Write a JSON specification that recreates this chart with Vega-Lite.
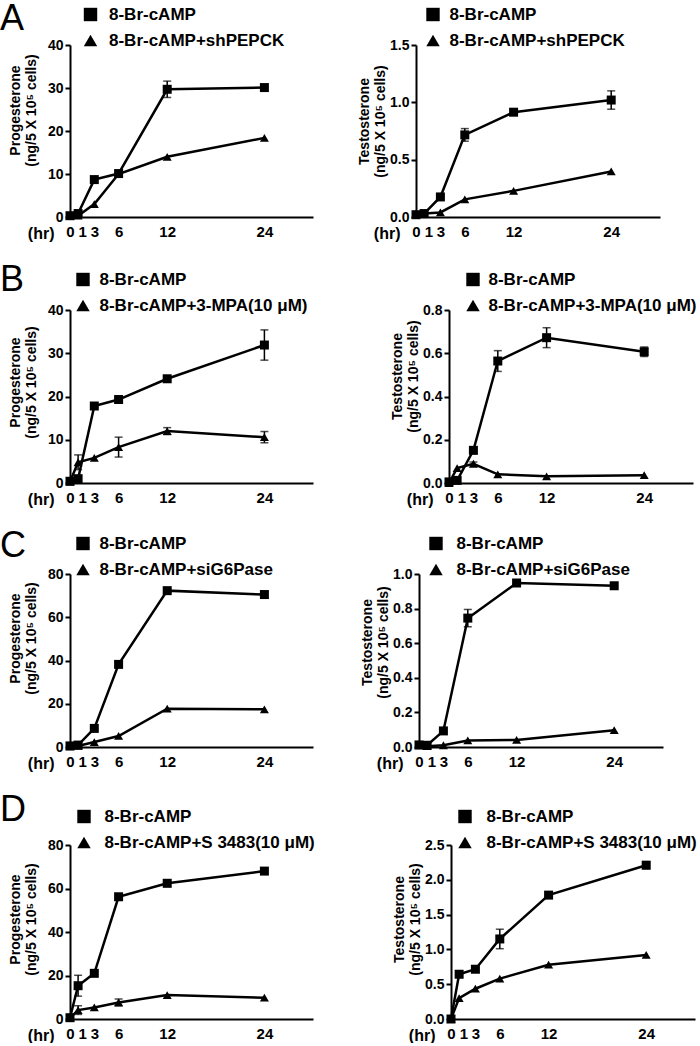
{
  "$schema": "https://vega.github.io/schema/vega-lite/v6.json",
  "padding": {"left": 0, "top": 0, "right": 0, "bottom": 0},
  "background": "white",
  "datasets": {
    "d": [
      {"p": "A1", "s": "8-Br-cAMP", "hr": 0, "v": 0.3, "e": 0},
      {"p": "A1", "s": "8-Br-cAMP", "hr": 1, "v": 0.8, "e": 0},
      {"p": "A1", "s": "8-Br-cAMP", "hr": 3, "v": 8.7, "e": 0},
      {"p": "A1", "s": "8-Br-cAMP", "hr": 6, "v": 10.1, "e": 0},
      {"p": "A1", "s": "8-Br-cAMP", "hr": 12, "v": 29.7, "e": 1.9},
      {"p": "A1", "s": "8-Br-cAMP", "hr": 24, "v": 30.1, "e": 0},
      {"p": "A1", "s": "8-Br-cAMP+shPEPCK", "hr": 0, "v": 0.2, "e": 0},
      {"p": "A1", "s": "8-Br-cAMP+shPEPCK", "hr": 1, "v": 0.3, "e": 0},
      {"p": "A1", "s": "8-Br-cAMP+shPEPCK", "hr": 3, "v": 3.0, "e": 0},
      {"p": "A1", "s": "8-Br-cAMP+shPEPCK", "hr": 6, "v": 10.0, "e": 0},
      {"p": "A1", "s": "8-Br-cAMP+shPEPCK", "hr": 12, "v": 14.0, "e": 0},
      {"p": "A1", "s": "8-Br-cAMP+shPEPCK", "hr": 24, "v": 18.4, "e": 0},
      {"p": "A2", "s": "8-Br-cAMP", "hr": 0, "v": 0.02, "e": 0},
      {"p": "A2", "s": "8-Br-cAMP", "hr": 1, "v": 0.03, "e": 0},
      {"p": "A2", "s": "8-Br-cAMP", "hr": 3, "v": 0.175, "e": 0},
      {"p": "A2", "s": "8-Br-cAMP", "hr": 6, "v": 0.716, "e": 0.055},
      {"p": "A2", "s": "8-Br-cAMP", "hr": 12, "v": 0.914, "e": 0},
      {"p": "A2", "s": "8-Br-cAMP", "hr": 24, "v": 1.02, "e": 0.08},
      {"p": "A2", "s": "8-Br-cAMP+shPEPCK", "hr": 0, "v": 0.03, "e": 0},
      {"p": "A2", "s": "8-Br-cAMP+shPEPCK", "hr": 1, "v": 0.03, "e": 0},
      {"p": "A2", "s": "8-Br-cAMP+shPEPCK", "hr": 3, "v": 0.04, "e": 0},
      {"p": "A2", "s": "8-Br-cAMP+shPEPCK", "hr": 6, "v": 0.154, "e": 0},
      {"p": "A2", "s": "8-Br-cAMP+shPEPCK", "hr": 12, "v": 0.228, "e": 0},
      {"p": "A2", "s": "8-Br-cAMP+shPEPCK", "hr": 24, "v": 0.397, "e": 0},
      {"p": "B1", "s": "8-Br-cAMP", "hr": 0, "v": 0.4, "e": 0},
      {"p": "B1", "s": "8-Br-cAMP", "hr": 1, "v": 1.0, "e": 0},
      {"p": "B1", "s": "8-Br-cAMP", "hr": 3, "v": 17.8, "e": 0},
      {"p": "B1", "s": "8-Br-cAMP", "hr": 6, "v": 19.3, "e": 0},
      {"p": "B1", "s": "8-Br-cAMP", "hr": 12, "v": 24.1, "e": 0},
      {"p": "B1", "s": "8-Br-cAMP", "hr": 24, "v": 31.9, "e": 3.5},
      {"p": "B1", "s": "8-Br-cAMP+3-MPA(10 μM)", "hr": 0, "v": 0.3, "e": 0},
      {"p": "B1", "s": "8-Br-cAMP+3-MPA(10 μM)", "hr": 1, "v": 4.8, "e": 1.7},
      {"p": "B1", "s": "8-Br-cAMP+3-MPA(10 μM)", "hr": 3, "v": 5.8, "e": 0},
      {"p": "B1", "s": "8-Br-cAMP+3-MPA(10 μM)", "hr": 6, "v": 8.3, "e": 2.3},
      {"p": "B1", "s": "8-Br-cAMP+3-MPA(10 μM)", "hr": 12, "v": 12.0, "e": 0.8},
      {"p": "B1", "s": "8-Br-cAMP+3-MPA(10 μM)", "hr": 24, "v": 10.6, "e": 1.3},
      {"p": "B2", "s": "8-Br-cAMP", "hr": 0, "v": 0.005, "e": 0},
      {"p": "B2", "s": "8-Br-cAMP", "hr": 1, "v": 0.012, "e": 0},
      {"p": "B2", "s": "8-Br-cAMP", "hr": 3, "v": 0.151, "e": 0},
      {"p": "B2", "s": "8-Br-cAMP", "hr": 6, "v": 0.564, "e": 0.048},
      {"p": "B2", "s": "8-Br-cAMP", "hr": 12, "v": 0.672, "e": 0.046},
      {"p": "B2", "s": "8-Br-cAMP", "hr": 24, "v": 0.607, "e": 0.022},
      {"p": "B2", "s": "8-Br-cAMP+3-MPA(10 μM)", "hr": 0, "v": 0.0, "e": 0},
      {"p": "B2", "s": "8-Br-cAMP+3-MPA(10 μM)", "hr": 1, "v": 0.069, "e": 0},
      {"p": "B2", "s": "8-Br-cAMP+3-MPA(10 μM)", "hr": 3, "v": 0.089, "e": 0.008},
      {"p": "B2", "s": "8-Br-cAMP+3-MPA(10 μM)", "hr": 6, "v": 0.040, "e": 0},
      {"p": "B2", "s": "8-Br-cAMP+3-MPA(10 μM)", "hr": 12, "v": 0.031, "e": 0},
      {"p": "B2", "s": "8-Br-cAMP+3-MPA(10 μM)", "hr": 24, "v": 0.036, "e": 0},
      {"p": "C1", "s": "8-Br-cAMP", "hr": 0, "v": 0.5, "e": 0},
      {"p": "C1", "s": "8-Br-cAMP", "hr": 1, "v": 0.9, "e": 0},
      {"p": "C1", "s": "8-Br-cAMP", "hr": 3, "v": 8.6, "e": 0},
      {"p": "C1", "s": "8-Br-cAMP", "hr": 6, "v": 38.2, "e": 0},
      {"p": "C1", "s": "8-Br-cAMP", "hr": 12, "v": 72.3, "e": 1.0},
      {"p": "C1", "s": "8-Br-cAMP", "hr": 24, "v": 70.5, "e": 0},
      {"p": "C1", "s": "8-Br-cAMP+siG6Pase", "hr": 0, "v": 0.3, "e": 0},
      {"p": "C1", "s": "8-Br-cAMP+siG6Pase", "hr": 1, "v": 0.5, "e": 0},
      {"p": "C1", "s": "8-Br-cAMP+siG6Pase", "hr": 3, "v": 2.3, "e": 0},
      {"p": "C1", "s": "8-Br-cAMP+siG6Pase", "hr": 6, "v": 5.1, "e": 0},
      {"p": "C1", "s": "8-Br-cAMP+siG6Pase", "hr": 12, "v": 17.7, "e": 0},
      {"p": "C1", "s": "8-Br-cAMP+siG6Pase", "hr": 24, "v": 17.4, "e": 0},
      {"p": "C2", "s": "8-Br-cAMP", "hr": 0, "v": 0.012, "e": 0},
      {"p": "C2", "s": "8-Br-cAMP", "hr": 1, "v": 0.01, "e": 0},
      {"p": "C2", "s": "8-Br-cAMP", "hr": 3, "v": 0.093, "e": 0},
      {"p": "C2", "s": "8-Br-cAMP", "hr": 6, "v": 0.745, "e": 0.05},
      {"p": "C2", "s": "8-Br-cAMP", "hr": 12, "v": 0.948, "e": 0},
      {"p": "C2", "s": "8-Br-cAMP", "hr": 24, "v": 0.932, "e": 0},
      {"p": "C2", "s": "8-Br-cAMP+siG6Pase", "hr": 0, "v": 0.01, "e": 0},
      {"p": "C2", "s": "8-Br-cAMP+siG6Pase", "hr": 1, "v": 0.005, "e": 0},
      {"p": "C2", "s": "8-Br-cAMP+siG6Pase", "hr": 3, "v": 0.01, "e": 0},
      {"p": "C2", "s": "8-Br-cAMP+siG6Pase", "hr": 6, "v": 0.038, "e": 0},
      {"p": "C2", "s": "8-Br-cAMP+siG6Pase", "hr": 12, "v": 0.041, "e": 0},
      {"p": "C2", "s": "8-Br-cAMP+siG6Pase", "hr": 24, "v": 0.097, "e": 0},
      {"p": "D1", "s": "8-Br-cAMP", "hr": 0, "v": 0.6, "e": 0},
      {"p": "D1", "s": "8-Br-cAMP", "hr": 1, "v": 15.3, "e": 4.8},
      {"p": "D1", "s": "8-Br-cAMP", "hr": 3, "v": 21.0, "e": 0},
      {"p": "D1", "s": "8-Br-cAMP", "hr": 6, "v": 56.2, "e": 0},
      {"p": "D1", "s": "8-Br-cAMP", "hr": 12, "v": 62.4, "e": 1.5},
      {"p": "D1", "s": "8-Br-cAMP", "hr": 24, "v": 68.0, "e": 0},
      {"p": "D1", "s": "8-Br-cAMP+S 3483(10 μM)", "hr": 0, "v": 0.5, "e": 0},
      {"p": "D1", "s": "8-Br-cAMP+S 3483(10 μM)", "hr": 1, "v": 4.1, "e": 2.0},
      {"p": "D1", "s": "8-Br-cAMP+S 3483(10 μM)", "hr": 3, "v": 5.3, "e": 0},
      {"p": "D1", "s": "8-Br-cAMP+S 3483(10 μM)", "hr": 6, "v": 7.6, "e": 1.6},
      {"p": "D1", "s": "8-Br-cAMP+S 3483(10 μM)", "hr": 12, "v": 11.0, "e": 0},
      {"p": "D1", "s": "8-Br-cAMP+S 3483(10 μM)", "hr": 24, "v": 9.8, "e": 0},
      {"p": "D2", "s": "8-Br-cAMP", "hr": 0, "v": 0.0, "e": 0},
      {"p": "D2", "s": "8-Br-cAMP", "hr": 1, "v": 0.643, "e": 0},
      {"p": "D2", "s": "8-Br-cAMP", "hr": 3, "v": 0.715, "e": 0},
      {"p": "D2", "s": "8-Br-cAMP", "hr": 6, "v": 1.15, "e": 0.14},
      {"p": "D2", "s": "8-Br-cAMP", "hr": 12, "v": 1.78, "e": 0},
      {"p": "D2", "s": "8-Br-cAMP", "hr": 24, "v": 2.21, "e": 0.05},
      {"p": "D2", "s": "8-Br-cAMP+S 3483(10 μM)", "hr": 0, "v": 0.0, "e": 0},
      {"p": "D2", "s": "8-Br-cAMP+S 3483(10 μM)", "hr": 1, "v": 0.30, "e": 0},
      {"p": "D2", "s": "8-Br-cAMP+S 3483(10 μM)", "hr": 3, "v": 0.435, "e": 0},
      {"p": "D2", "s": "8-Br-cAMP+S 3483(10 μM)", "hr": 6, "v": 0.58, "e": 0},
      {"p": "D2", "s": "8-Br-cAMP+S 3483(10 μM)", "hr": 12, "v": 0.78, "e": 0},
      {"p": "D2", "s": "8-Br-cAMP+S 3483(10 μM)", "hr": 24, "v": 0.92, "e": 0}
    ]
  },
  "config": {
    "font": "Liberation Sans",
    "view": {"stroke": null},
    "axis": {
      "domainColor": "black", "domainWidth": 2, "tickColor": "black", "tickWidth": 2,
      "labelColor": "black", "labelFont": "Liberation Sans", "labelFontWeight": "bold", "labelFontSize": 14,
      "titleColor": "black", "titleFont": "Liberation Sans", "titleFontWeight": "bold", "titleFontSize": 14,
      "grid": false, "labelOverlap": false, "labelFlush": false, "labelBound": false
    },
    "axisX": {"ticks": false, "labelPadding": 7, "labelFontSize": 15, "titleX": -16, "titleY": 8, "titleAlign": "right", "titleBaseline": "top", "titleAngle": 0, "titleFontSize": 16},
    "axisY": {"tickSize": 5, "labelPadding": 2, "titleX": -48, "titleAngle": -90, "titleAlign": "center", "titleBaseline": "bottom", "titleLineHeight": 16},
    "legend": {"labelFont": "Liberation Sans", "labelFontWeight": "bold", "labelFontSize": 17, "labelColor": "black", "symbolSize": 180, "symbolFillColor": "black", "symbolStrokeColor": "black", "labelLimit": 400, "rowPadding": 6, "padding": 0},
    "title": {"font": "Liberation Sans", "fontSize": 36, "fontWeight": "normal", "color": "black", "anchor": "start", "frame": "group", "offset": 0}
  },
  "spacing": 21,
  "resolve": {"scale": {"shape": "independent"}, "legend": {"shape": "independent"}},
  "vconcat": [
    {
      "hconcat": [
        {
          "width": 243, "height": 172,
          "data": {"name": "d"},
          "transform": [{"filter": "datum.p === 'A1'"}],
          "title": {"text": "A", "dx": -70, "dy": 35.6},
          "encoding": {
            "x": {"field": "hr", "type": "quantitative", "scale": {"domain": [0, 30], "nice": false}, "axis": {"values": [0, 1, 3, 6, 12, 24], "title": "(hr)", "labelAlign": {"condition": {"test": "datum.value === 1", "value": "left"}, "value": "center"}}},
            "y": {"field": "v", "type": "quantitative", "scale": {"domain": [0, 40], "nice": false}, "axis": {"values": [0, 10, 20, 30, 40], "title": ["Progesterone", "(ng/5 X 10⁵ cells)"], "titleY": 65}}
          },
          "layer": [
            {"mark": {"type": "line", "color": "black", "strokeWidth": 2.5}, "encoding": {"detail": {"field": "s", "type": "nominal"}}},
            {"transform": [{"filter": "datum.e > 0"}], "mark": {"type": "errorbar", "color": "black", "ticks": {"size": 8, "thickness": 1.5, "color": "black"}, "rule": {"strokeWidth": 1.5, "color": "black"}}, "encoding": {"yError": {"field": "e"}}},
            {"mark": {"type": "point", "filled": true, "color": "black", "size": 81, "opacity": 1}, "encoding": {"shape": {"field": "s", "type": "nominal", "scale": {"domain": ["8-Br-cAMP", "8-Br-cAMP+shPEPCK"], "range": ["square", "triangle-up"]}, "legend": {"orient": "none", "legendX": 12, "legendY": -39, "title": null, "labelOffset": 10}}}}
          ]
        },
        {
          "width": 244, "height": 172,
          "data": {"name": "d"},
          "transform": [{"filter": "datum.p === 'A2'"}],
          "encoding": {
            "x": {"field": "hr", "type": "quantitative", "scale": {"domain": [0, 30], "nice": false}, "axis": {"values": [0, 1, 3, 6, 12, 24], "title": "(hr)", "labelAlign": {"condition": {"test": "datum.value === 1", "value": "left"}, "value": "center"}}},
            "y": {"field": "v", "type": "quantitative", "scale": {"domain": [0, 1.5], "nice": false}, "axis": {"values": [0, 0.5, 1.0, 1.5], "format": ".1f", "title": ["Testosterone", "(ng/5 X 10⁵ cells)"], "titleY": 76, "titleX": -45}}
          },
          "layer": [
            {"mark": {"type": "line", "color": "black", "strokeWidth": 2.5}, "encoding": {"detail": {"field": "s", "type": "nominal"}}},
            {"transform": [{"filter": "datum.e > 0"}], "mark": {"type": "errorbar", "color": "black", "ticks": {"size": 8, "thickness": 1.5, "color": "black"}, "rule": {"strokeWidth": 1.5, "color": "black"}}, "encoding": {"yError": {"field": "e"}}},
            {"mark": {"type": "point", "filled": true, "color": "black", "size": 81, "opacity": 1}, "encoding": {"shape": {"field": "s", "type": "nominal", "scale": {"domain": ["8-Br-cAMP", "8-Br-cAMP+shPEPCK"], "range": ["square", "triangle-up"]}, "legend": {"orient": "none", "legendX": 8.5, "legendY": -39, "title": null, "labelOffset": 8}}}}
          ]
        }
      ],
      "spacing": 103, "bounds": "flush",
      "resolve": {"scale": {"shape": "independent"}, "legend": {"shape": "independent"}}
    },
    {
      "hconcat": [
        {
          "width": 243, "height": 173,
          "data": {"name": "d"},
          "transform": [{"filter": "datum.p === 'B1'"}],
          "title": {"text": "B", "dx": -70, "dy": 32.3},
          "encoding": {
            "x": {"field": "hr", "type": "quantitative", "scale": {"domain": [0, 30], "nice": false}, "axis": {"values": [0, 1, 3, 6, 12, 24], "title": "(hr)", "labelAlign": {"condition": {"test": "datum.value === 1", "value": "left"}, "value": "center"}}},
            "y": {"field": "v", "type": "quantitative", "scale": {"domain": [0, 40], "nice": false}, "axis": {"values": [0, 10, 20, 30, 40], "title": ["Progesterone", "(ng/5 X 10⁵ cells)"], "titleY": 72}}
          },
          "layer": [
            {"mark": {"type": "line", "color": "black", "strokeWidth": 2.5}, "encoding": {"detail": {"field": "s", "type": "nominal"}}},
            {"transform": [{"filter": "datum.e > 0"}], "mark": {"type": "errorbar", "color": "black", "ticks": {"size": 8, "thickness": 1.5, "color": "black"}, "rule": {"strokeWidth": 1.5, "color": "black"}}, "encoding": {"yError": {"field": "e"}}},
            {"mark": {"type": "point", "filled": true, "color": "black", "size": 81, "opacity": 1}, "encoding": {"shape": {"field": "s", "type": "nominal", "scale": {"domain": ["8-Br-cAMP", "8-Br-cAMP+3-MPA(10 μM)"], "range": ["square", "triangle-up"]}, "legend": {"orient": "none", "legendX": 4.5, "legendY": -39, "title": null, "labelOffset": 8}}}}
          ]
        },
        {
          "width": 244, "height": 173,
          "data": {"name": "d"},
          "transform": [{"filter": "datum.p === 'B2'"}],
          "encoding": {
            "x": {"field": "hr", "type": "quantitative", "scale": {"domain": [0, 30], "nice": false}, "axis": {"values": [0, 1, 3, 6, 12, 24], "title": "(hr)", "labelAlign": {"condition": {"test": "datum.value === 1", "value": "left"}, "value": "center"}}},
            "y": {"field": "v", "type": "quantitative", "scale": {"domain": [0, 0.8], "nice": false}, "axis": {"values": [0, 0.2, 0.4, 0.6, 0.8], "format": ".1f", "title": ["Testosterone", "(ng/5 X 10⁵ cells)"], "titleY": 66, "titleX": -45}}
          },
          "layer": [
            {"mark": {"type": "line", "color": "black", "strokeWidth": 2.5}, "encoding": {"detail": {"field": "s", "type": "nominal"}}},
            {"transform": [{"filter": "datum.e > 0"}], "mark": {"type": "errorbar", "color": "black", "ticks": {"size": 8, "thickness": 1.5, "color": "black"}, "rule": {"strokeWidth": 1.5, "color": "black"}}, "encoding": {"yError": {"field": "e"}}},
            {"mark": {"type": "point", "filled": true, "color": "black", "size": 81, "opacity": 1}, "encoding": {"shape": {"field": "s", "type": "nominal", "scale": {"domain": ["8-Br-cAMP", "8-Br-cAMP+3-MPA(10 μM)"], "range": ["square", "triangle-up"]}, "legend": {"orient": "none", "legendX": 15.5, "legendY": -39, "title": null, "labelOffset": 7}}}}
          ]
        }
      ],
      "spacing": 136, "bounds": "flush",
      "resolve": {"scale": {"shape": "independent"}, "legend": {"shape": "independent"}}
    },
    {
      "hconcat": [
        {
          "width": 243, "height": 173,
          "data": {"name": "d"},
          "transform": [{"filter": "datum.p === 'C1'"}],
          "title": {"text": "C", "dx": -70, "dy": 34},
          "encoding": {
            "x": {"field": "hr", "type": "quantitative", "scale": {"domain": [0, 30], "nice": false}, "axis": {"values": [0, 1, 3, 6, 12, 24], "title": "(hr)", "labelAlign": {"condition": {"test": "datum.value === 1", "value": "left"}, "value": "center"}}},
            "y": {"field": "v", "type": "quantitative", "scale": {"domain": [0, 80], "nice": false}, "axis": {"values": [0, 20, 40, 60, 80], "title": ["Progesterone", "(ng/5 X 10⁵ cells)"], "titleY": 64}}
          },
          "layer": [
            {"mark": {"type": "line", "color": "black", "strokeWidth": 2.5}, "encoding": {"detail": {"field": "s", "type": "nominal"}}},
            {"transform": [{"filter": "datum.e > 0"}], "mark": {"type": "errorbar", "color": "black", "ticks": {"size": 8, "thickness": 1.5, "color": "black"}, "rule": {"strokeWidth": 1.5, "color": "black"}}, "encoding": {"yError": {"field": "e"}}},
            {"mark": {"type": "point", "filled": true, "color": "black", "size": 81, "opacity": 1}, "encoding": {"shape": {"field": "s", "type": "nominal", "scale": {"domain": ["8-Br-cAMP", "8-Br-cAMP+siG6Pase"], "range": ["square", "triangle-up"]}, "legend": {"orient": "none", "legendX": 4.5, "legendY": -39, "title": null, "labelOffset": 8}}}}
          ]
        },
        {
          "width": 244, "height": 173,
          "data": {"name": "d"},
          "transform": [{"filter": "datum.p === 'C2'"}],
          "encoding": {
            "x": {"field": "hr", "type": "quantitative", "scale": {"domain": [0, 30], "nice": false}, "axis": {"values": [0, 1, 3, 6, 12, 24], "title": "(hr)", "labelAlign": {"condition": {"test": "datum.value === 1", "value": "left"}, "value": "center"}}},
            "y": {"field": "v", "type": "quantitative", "scale": {"domain": [0, 1.0], "nice": false}, "axis": {"values": [0, 0.2, 0.4, 0.6, 0.8, 1.0], "format": ".1f", "title": ["Testosterone", "(ng/5 X 10⁵ cells)"], "titleY": 68, "titleX": -45}}
          },
          "layer": [
            {"mark": {"type": "line", "color": "black", "strokeWidth": 2.5}, "encoding": {"detail": {"field": "s", "type": "nominal"}}},
            {"transform": [{"filter": "datum.e > 0"}], "mark": {"type": "errorbar", "color": "black", "ticks": {"size": 8, "thickness": 1.5, "color": "black"}, "rule": {"strokeWidth": 1.5, "color": "black"}}, "encoding": {"yError": {"field": "e"}}},
            {"mark": {"type": "point", "filled": true, "color": "black", "size": 81, "opacity": 1}, "encoding": {"shape": {"field": "s", "type": "nominal", "scale": {"domain": ["8-Br-cAMP", "8-Br-cAMP+siG6Pase"], "range": ["square", "triangle-up"]}, "legend": {"orient": "none", "legendX": 8.5, "legendY": -39, "title": null, "labelOffset": 12}}}}
          ]
        }
      ],
      "spacing": 106, "bounds": "flush",
      "resolve": {"scale": {"shape": "independent"}, "legend": {"shape": "independent"}}
    },
    {
      "hconcat": [
        {
          "width": 243, "height": 174,
          "data": {"name": "d"},
          "transform": [{"filter": "datum.p === 'D1'"}],
          "title": {"text": "D", "dx": -70, "dy": 25.1},
          "encoding": {
            "x": {"field": "hr", "type": "quantitative", "scale": {"domain": [0, 30], "nice": false}, "axis": {"values": [0, 1, 3, 6, 12, 24], "title": "(hr)", "labelAlign": {"condition": {"test": "datum.value === 1", "value": "left"}, "value": "center"}}},
            "y": {"field": "v", "type": "quantitative", "scale": {"domain": [0, 80], "nice": false}, "axis": {"values": [0, 20, 40, 60, 80], "title": ["Progesterone", "(ng/5 X 10⁵ cells)"], "titleY": 74}}
          },
          "layer": [
            {"mark": {"type": "line", "color": "black", "strokeWidth": 2.5}, "encoding": {"detail": {"field": "s", "type": "nominal"}}},
            {"transform": [{"filter": "datum.e > 0"}], "mark": {"type": "errorbar", "color": "black", "ticks": {"size": 8, "thickness": 1.5, "color": "black"}, "rule": {"strokeWidth": 1.5, "color": "black"}}, "encoding": {"yError": {"field": "e"}}},
            {"mark": {"type": "point", "filled": true, "color": "black", "size": 81, "opacity": 1}, "encoding": {"shape": {"field": "s", "type": "nominal", "scale": {"domain": ["8-Br-cAMP", "8-Br-cAMP+S 3483(10 μM)"], "range": ["square", "triangle-up"]}, "legend": {"orient": "none", "legendX": 5.5, "legendY": -37, "title": null, "labelOffset": 12}}}}
          ]
        },
        {
          "width": 244, "height": 174,
          "data": {"name": "d"},
          "transform": [{"filter": "datum.p === 'D2'"}],
          "encoding": {
            "x": {"field": "hr", "type": "quantitative", "scale": {"domain": [0, 30], "nice": false}, "axis": {"values": [0, 1, 3, 6, 12, 24], "title": "(hr)", "labelAlign": {"condition": {"test": "datum.value === 1", "value": "left"}, "value": "center"}}},
            "y": {"field": "v", "type": "quantitative", "scale": {"domain": [0, 2.5], "nice": false}, "axis": {"values": [0, 0.5, 1.0, 1.5, 2.0, 2.5], "format": ".1f", "title": ["Testosterone", "(ng/5 X 10⁵ cells)"], "titleY": 74, "titleX": -45}}
          },
          "layer": [
            {"mark": {"type": "line", "color": "black", "strokeWidth": 2.5}, "encoding": {"detail": {"field": "s", "type": "nominal"}}},
            {"transform": [{"filter": "datum.e > 0"}], "mark": {"type": "errorbar", "color": "black", "ticks": {"size": 8, "thickness": 1.5, "color": "black"}, "rule": {"strokeWidth": 1.5, "color": "black"}}, "encoding": {"yError": {"field": "e"}}},
            {"mark": {"type": "point", "filled": true, "color": "black", "size": 81, "opacity": 1}, "encoding": {"shape": {"field": "s", "type": "nominal", "scale": {"domain": ["8-Br-cAMP", "8-Br-cAMP+S 3483(10 μM)"], "range": ["square", "triangle-up"]}, "legend": {"orient": "none", "legendX": 5.5, "legendY": -37, "title": null, "labelOffset": 13}}}}
          ]
        }
      ],
      "spacing": 138, "bounds": "flush",
      "resolve": {"scale": {"shape": "independent"}, "legend": {"shape": "independent"}}
    }
  ]
}
